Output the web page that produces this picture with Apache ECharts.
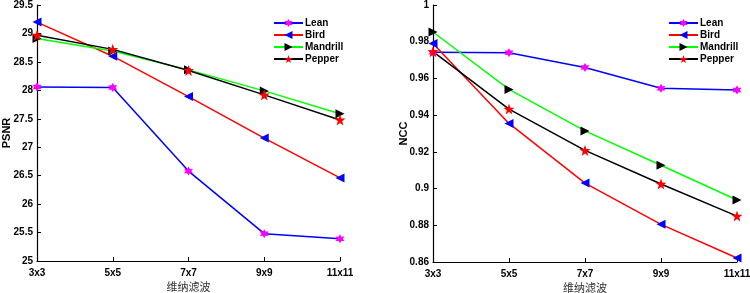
<!DOCTYPE html>
<html>
<head>
<meta charset="utf-8">
<script src="https://cdn.jsdelivr.net/npm/echarts@6/dist/echarts.min.js"></script>
<style>
html,body{margin:0;padding:0;background:#fff;}
#main{width:750px;height:293px;}
</style>
</head>
<body>
<div id="main"></div>
<script>
var categories = ['3x3','5x5','7x7','9x9','11x11'];
var names = ['Lean','Bird','Mandrill','Pepper'];

// PSNR
var psnrLean = [28.06, 28.05, 26.58, 25.48, 25.39];
var psnrBird = [29.2, 28.6, 27.89, 27.16, 26.46];
var psnrMandrill = [28.91, 28.69, 28.36, 27.99, 27.59];
var psnrPepper = [28.97, 28.72, 28.35, 27.92, 27.48];

// NCC
var nccLean = [0.9742, 0.974, 0.966, 0.9546, 0.9537];
var nccBird = [0.979, 0.9355, 0.903, 0.8805, 0.8622];
var nccMandrill = [0.9853, 0.954, 0.9314, 0.9127, 0.8938];
var nccPepper = [0.9746, 0.9433, 0.9208, 0.9025, 0.885];

function starPath(n, r1, r2){
    var s = '';
    for(var i=0;i<n*2;i++){
        var r = i%2==0 ? r1 : r2;
        var a = Math.PI*i/n - Math.PI/2;
        s += (i==0?'M':'L') + (r*Math.cos(a)).toFixed(2) + ',' + (r*Math.sin(a)).toFixed(2);
    }
    return 'path://' + s + 'Z';
}
var hexSym = starPath(6, 10, 5.5);
var starSym = starPath(5, 10, 4);

var styles = [
    {line:'#0000ff', mark:'#ff00ff', symbol:hexSym, rot:0, size:9},
    {line:'#ff0000', mark:'#0000ff', symbol:'triangle', rot:90, size:9},
    {line:'#00ff00', mark:'#000000', symbol:'triangle', rot:-90, size:9},
    {line:'#000000', mark:'#ff0000', symbol:starSym, rot:0, size:11}
];

function makeSeries(idx, list){
    var out = [];
    for(var i=0;i<list.length;i++){
        var st = styles[i];
        out.push({
            name: names[i],
            type: 'line',
            xAxisIndex: idx,
            yAxisIndex: idx,
            data: list[i],
            symbol: st.symbol,
            symbolRotate: st.rot,
            symbolSize: st.size,
            showAllSymbol: true,
            lineStyle: {color: st.line, width: 1.5},
            itemStyle: {color: st.mark},
            emphasis: {disabled: true},
            animation: false
        });
    }
    return out;
}

var tickFont = {color:'#000', fontWeight:'bold', fontSize:10, fontFamily:'Arial, Liberation Sans, sans-serif'};

function xAxisOf(idx){
    return {
        type:'category', gridIndex: idx, data: categories, boundaryGap:false,
        name:'维纳滤波', nameLocation:'middle', nameGap:20, nameMoveOverlap:false,
        nameTextStyle:{color:'#333', fontSize:11, fontFamily:'Noto Sans CJK SC'},
        axisLine:{lineStyle:{color:'#000', width:1.2}},
        axisTick:{inside:true, length:4, lineStyle:{color:'#000'}},
        axisLabel:Object.assign({margin:7}, tickFont),
        splitLine:{show:false}
    };
}
function yAxisOf(idx, min, max, interval, name, gap){
    return {
        type:'value', gridIndex: idx, min:min, max:max, interval:interval,
        name:name, nameLocation:'middle', nameGap:gap, nameMoveOverlap:false,
        nameTextStyle:{color:'#000', fontWeight:'bold', fontSize:11, fontFamily:'Arial, Liberation Sans, sans-serif'},
        axisLine:{show:true, lineStyle:{color:'#000', width:1.2}},
        axisTick:{show:true, inside:true, length:4, lineStyle:{color:'#000'}},
        axisLabel:Object.assign({margin:4, formatter:function(v){return String(+v.toFixed(2));}}, tickFont),
        splitLine:{show:false}
    };
}
function legendOf(left){
    return {
        data: names, orient:'vertical', left:left, top:13, itemGap:2,
        itemWidth:29, itemHeight:10,
        textStyle:{color:'#000', fontWeight:'bold', fontSize:10, lineHeight:10, fontFamily:'Arial, Liberation Sans, sans-serif', padding:[0,0,0,-3]},
        selectedMode:false
    };
}

var chart = echarts.init(document.getElementById('main'));
var option = {
    backgroundColor:'#fff',
    animation:false,
    legend:[legendOf(268), legendOf(663)],
    grid:[
        {left:37, right:410, top:5, bottom:32, containLabel:false, outerBoundsMode:'none'},
        {left:433, right:13, top:5, bottom:31, containLabel:false, outerBoundsMode:'none'}
    ],
    xAxis:[xAxisOf(0), xAxisOf(1)],
    yAxis:[yAxisOf(0, 25, 29.5, 0.5, 'PSNR', 25), yAxisOf(1, 0.86, 1, 0.02, 'NCC', 24)],
    series: makeSeries(0, [psnrLean, psnrBird, psnrMandrill, psnrPepper])
        .concat(makeSeries(1, [nccLean, nccBird, nccMandrill, nccPepper]))
};
chart.setOption(option);
</script>
</body>
</html>
